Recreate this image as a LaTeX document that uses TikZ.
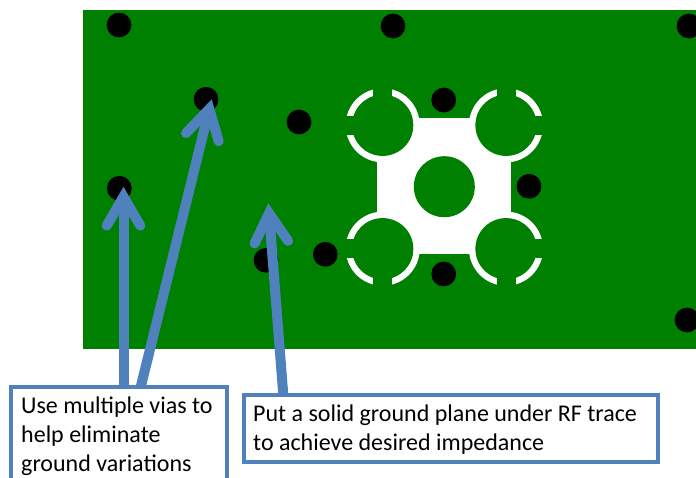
\documentclass[tikz,border=0pt]{standalone}
\usepackage{fontspec}
\setmainfont{Carlito}
\usetikzlibrary{calc}
\definecolor{board}{HTML}{008000}
\definecolor{callout}{HTML}{4F81BD}
\tikzset{
  via/.style={circle,fill=black,draw=none,minimum size=24.8pt,inner sep=0pt},
  pin/.style={white,line width=6.5pt},
  gapcut/.style={fill=board,draw=none},
  callbox/.style={draw=callout,line width=4pt,fill=white,anchor=north west,inner sep=0pt},
  calltext/.style={anchor=north west,inner sep=0pt,align=left,font=\fontsize{24}{29}\selectfont},
  pointer/.style={draw=callout,line width=10pt},
  barbhead/.style={draw=callout,line width=10pt,line cap=round,line join=miter,miter limit=10},
  barb/.pic={\draw[barbhead] (-16.8,39) -- (0,10) -- (16.8,39);}
}
\begin{document}
\begin{tikzpicture}[x=1pt,y=-1pt]
\useasboundingbox (0,0) rectangle (696,477);
\clip (0,0) rectangle (696,477);
\fill[white] (0,0) rectangle (696,477);
\fill[board] (83,10) rectangle (696,349);
% footprint rings
\foreach \cx/\cy in {382.7/125.3,506/125.3,382.7/248.7,506/248.7}
  \draw[pin] (\cx,\cy) circle (33.8);
% gaps
\fill[gapcut] (373.3,85) rectangle (392,100);
\fill[gapcut] (496.7,85) rectangle (516,100);
\fill[gapcut] (373.3,274) rectangle (392,292);
\fill[gapcut] (496.7,274) rectangle (516,292);
\fill[gapcut] (340,116) rectangle (358,135);
\fill[gapcut] (531,116) rectangle (550,135);
\fill[gapcut] (340,239) rectangle (358,258.3);
\fill[gapcut] (531,239) rectangle (550,258.3);
% body
\fill[white] (376.7,118.3) rectangle (511,254);
\foreach \cx/\cy in {382.7/125.3,506/125.3,382.7/248.7,506/248.7}
  \fill[board] (\cx,\cy) circle (30.6);
\fill[board] (444.3,186.7) circle (30.5);
% vias
\node[via] (v1) at (119,25) {};
\node[via] (v2) at (393,26) {};
\node[via] (v3) at (689,26) {};
\node[via] (v4) at (206,99.3) {};
\node[via] (v5) at (299,122) {};
\node[via] (v6) at (443.7,100) {};
\node[via] (v7) at (529,186.3) {};
\node[via] (v8) at (119.3,188.3) {};
\node[via] (v9) at (266,260.3) {};
\node[via] (v10) at (325.3,254.3) {};
\node[via] (v11) at (443.7,274) {};
\node[via] (v12) at (687,320) {};
% callouts
\coordinate (t1) at (123.5,186.7);
\coordinate (s1) at (123.5,387);
\coordinate (t2) at (211.7,99.3);
\coordinate (s2) at (140.7,387);
\coordinate (t3) at (268.3,203.3);
\coordinate (s3) at (283.3,395);
\draw[pointer] (s1) -- ($(t1)!10pt!(s1)$);
\draw[pointer] (s2) -- ($(t2)!10pt!(s2)$);
\draw[pointer] (s3) -- ($(t3)!10pt!(s3)$);
\pic at (t1) {barb};
\pic[rotate=-13.85] at (t2) {barb};
\pic[rotate=4.47] at (t3) {barb};
\node[callbox,minimum width=216pt,minimum height=110pt] (b1) at (9,385) {};
\node[callbox,minimum width=414pt,minimum height=66.7pt] (b2) at (241.7,393.3) {};
\node[calltext] (l1) at (21,397) {Use multiple vias to\\help eliminate\\ground variations};
\node[calltext] (l2) at (253,405) {Put a solid ground plane under RF trace\\to achieve desired impedance};
\end{tikzpicture}
\end{document}
